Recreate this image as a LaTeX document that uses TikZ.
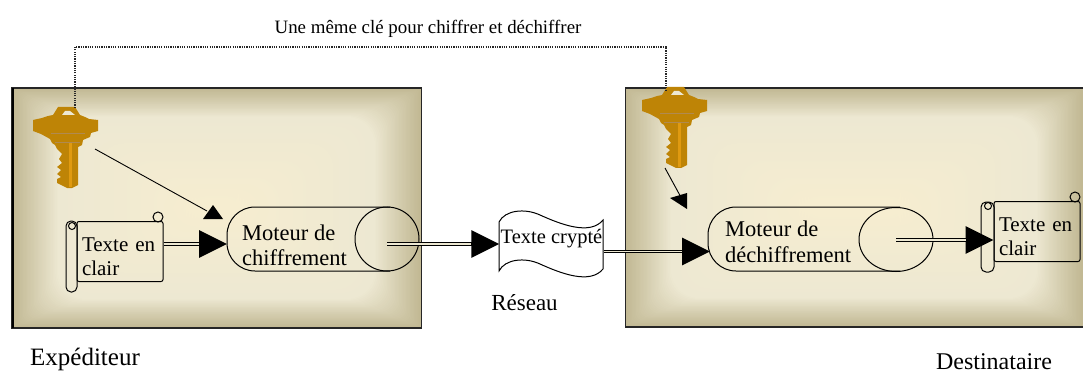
\documentclass[tikz,border=0pt]{standalone}
\usepackage{fontspec}
\setmainfont{Liberation Serif}
\usetikzlibrary{arrows.meta,shapes.geometric}
\definecolor{panelEdge}{HTML}{C2B994}
\definecolor{panelMid}{HTML}{EDE8D2}
\definecolor{panelCore}{HTML}{F6EDD0}
\definecolor{keyGold}{HTML}{BE8406}
\definecolor{keyLight}{HTML}{E09A10}
\definecolor{keyStripe}{HTML}{B08A50}
\newcommand{\panelshade}[4]{%
  \foreach \i in {0,1,...,34}{%
    \pgfmathsetmacro{\p}{100*(\i/34)^1.1}%
    \fill[panelMid!\p!panelEdge,rounded corners=\i/1.2]
      ({#1+1.35*\i},{#2+0.85*\i}) rectangle ({#3-1.35*\i},{#4-0.85*\i});}%
  \foreach \i in {35,37,...,135}{%
    \pgfmathsetmacro{\p}{100*(\i-35)/100}%
    \fill[panelCore!\p!panelMid,rounded corners=24]
      ({#1+1.35*\i},{#2+0.85*\i}) rectangle ({#3-1.35*\i},{#4-0.85*\i});}%
}
\tikzset{
  tx/.style={inner sep=0pt,font=\fontsize{#1}{#1}\selectfont},
  body/.style={draw=black,line width=1pt,rounded corners=2pt,inner sep=0pt,minimum width=86,minimum height=60,
    align=left,text width=76,inner xsep=5,font=\fontsize{21}{24}\selectfont},
  roller/.style={draw=black,line width=1pt,rounded corners=5pt},
  curl/.style={draw=black,line width=1pt},
  engtext/.style={inner sep=0pt,inner xsep=15,minimum height=64,align=left,font=\fontsize{22.5}{25.5}\selectfont},
  hub/.style={draw=black,line width=1pt,ellipse,inner sep=0pt,minimum height=64},
  outline/.style={draw=black,line width=1pt,rounded corners=28pt},
  bigtip/.style={-{Triangle[length=28,width=27]},line width=3.4pt,black},
  bigcore/.style={draw=panelMid,line width=1.1pt,shorten >=28},
  thin/.style={draw=black,line width=.9pt},
  keylink/.style={draw=black!85,line width=1.3pt,dash pattern=on 1.2pt off 1.1pt},
  keyicon/.pic={
    \fill[keyGold] (25,0)--(42,0)--(47,8)--(52,10)--(56,12)--(65,13)--(65,24)--(58,26)--(57,30)--(50,33)--(49,38)--(45,40)--(45,78)--(39,81)--(34,81)
      --(24,76)--(24,72)--(28,70)--(24,67)--(28,63)--(24,60)--(29,56)--(26,52)--(29,47)--(24,42)--(22,38)--(19,36)--(17,32)--(8,27)--(0,24)--(0,13)--(9,11)--(15,9)--(20,8)--cycle;
    \fill[panelMid] (29,8)--(42,8)--(37,4)--(32,4)--cycle;
    \fill[keyStripe] (18,26) rectangle (52,27.2);
    \fill[keyStripe] (22,35) rectangle (47,36.2);
    \fill[keyLight] (36,36) rectangle (39,80);
  },
}
\begin{document}
\begin{tikzpicture}[x=1pt,y=-1pt]
\useasboundingbox (0,0) rectangle (1083,374);
\fill[white] (0,0) rectangle (1083,374);
% panels
\panelshade{12}{88}{421}{328}
\panelshade{625}{88}{1083}{327}
\draw[black!85,line width=1.2pt] (12,88) rectangle (421.5,328);
\draw[black,line width=2.5pt] (13,88) -- (13,328);
\draw[black!85,line width=1.2pt] (1083,88) -- (625.5,88) -- (625.5,327) -- (1083,327);
% reference coordinates
\coordinate (wireTop) at (0,47);
\coordinate (laneA) at (0,244);
\coordinate (laneB) at (0,251.5);
\coordinate (laneC) at (0,240);
% top label and keys
\node[tx=18.9] (shared) at (428,29) {Une même clé pour chiffrer et déchiffrer};
\pic at (33,107) {keyicon};
\pic at (642,87) {keyicon};
\coordinate (keyA) at (75,108);
\coordinate (keyB) at (666,90);
\draw[keylink] (keyA) -- (keyA |- wireTop) -- (keyB |- wireTop) -- (keyB);
\coordinate (keyAout) at (95,149);
\coordinate (keyBout) at (665,168);
\coordinate (hitA) at (207,211);
\coordinate (hitB) at (683,201);
\draw[thin] (keyAout) -- (hitA);
\draw[thin] (keyBout) -- (hitB);
\fill[black] (213,205) -- (223,219) -- (203,219) -- cycle;
\fill[black] (670,198) -- (687,193) -- (687,209) -- cycle;
% left scroll
\draw[roller] (66,221) rectangle (77,292);
\draw[curl] (72,226) circle (3.5);
\draw[curl] (158,217) circle (5);
\node[body] (clearA) at (120,251.5) {\rule{0pt}{24pt}Texte en\\clair};
% left engine
\node[hub,minimum width=64] (hubA) at (387,239) {};
\draw[outline] (390,207) -- (227,207) -- (227,271) -- (390,271);
\node[engtext,anchor=west] (engA) at (227,245.5) {Moteur de\\chiffrement};
% crypted sheet
\draw[line width=1pt,fill=white] (499,222) .. controls (505,210) and (525,208) .. (540,215)
  .. controls (560,224) and (590,236) .. (603,220) -- (603,269)
  .. controls (590,285) and (560,273) .. (540,264)
  .. controls (525,257) and (505,259) .. (499,271) -- cycle;
\node[tx=20.5,minimum width=104,minimum height=40] (cipher) at (551.5,239) {Texte crypté};
\node[tx=23] (net) at (524.5,303) {Réseau};
% right engine
\node[hub,minimum width=74] (hubB) at (896,239.5) {};
\draw[outline] (900,207) -- (708,207) -- (708,271) -- (900,271);
\node[engtext,anchor=west] (engB) at (710,242) {Moteur de\\déchiffrement};
% right scroll
\draw[roller] (981,202) rectangle (994,272);
\draw[curl] (988,206) circle (3.5);
\draw[curl] (1075,197) circle (5);
\node[body] (clearB) at (1037,231.5) {\rule{0pt}{24pt}Texte en\\clair};
% double arrows
\draw[bigtip] (clearA.east |- laneA) -- (engA.west |- laneA);
\draw[bigcore] (clearA.east |- laneA) -- (engA.west |- laneA);
\draw[bigtip] (hubA.center |- laneA) -- (cipher.west |- laneA);
\draw[bigcore] (hubA.center |- laneA) -- (cipher.west |- laneA);
\draw[bigtip] (cipher.east |- laneB) -- (engB.west |- laneB);
\draw[bigcore] (cipher.east |- laneB) -- (engB.west |- laneB);
\draw[bigtip] (hubB.center |- laneC) -- (clearB.west |- laneC);
\draw[bigcore] (hubB.center |- laneC) -- (clearB.west |- laneC);
% captions
\node[tx=25] (sender) at (85,359) {Expéditeur};
\node[tx=24] (receiver) at (994,361.5) {Destinataire};
\end{tikzpicture}
\end{document}
